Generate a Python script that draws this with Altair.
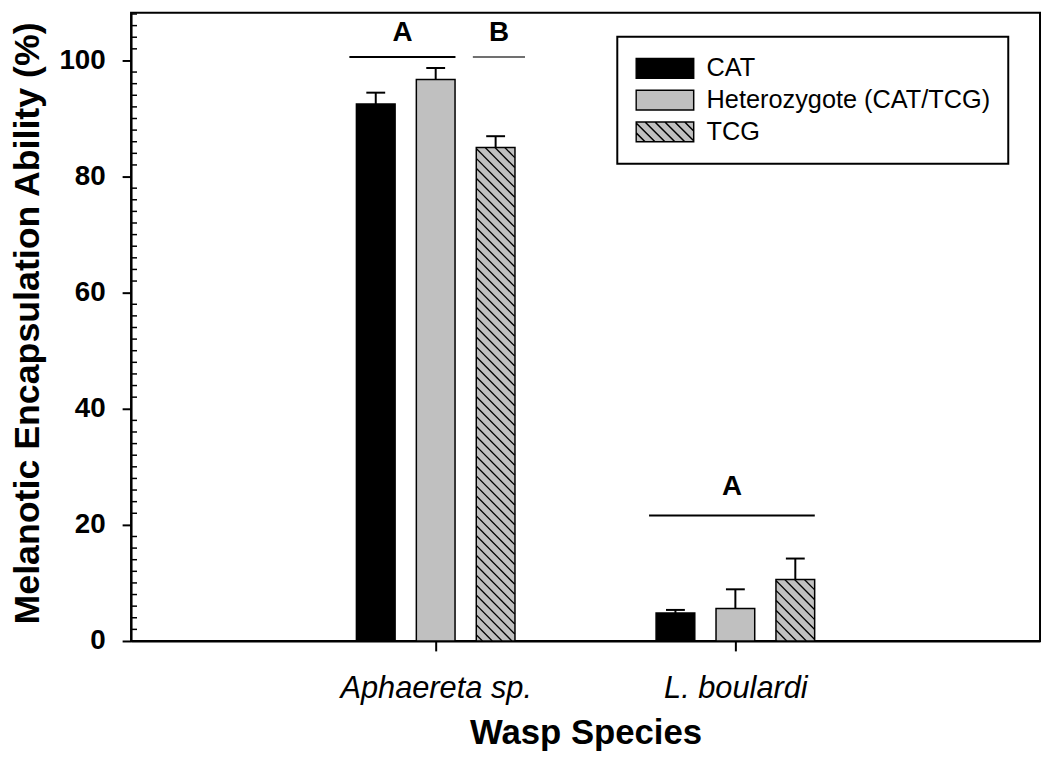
import altair as alt
import pandas as pd

# ---------------- data ----------------
species = ["Aphaereta sp.", "L. boulardi"]
genotypes = ["CAT", "Heterozygote (CAT/TCG)", "TCG"]
cat_mean = [92.5, 4.8]
het_mean = [96.7, 5.6]
tcg_mean = [85.0, 10.6]
cat_err = [1.95, 0.55]
het_err = [2.0, 3.3]
tcg_err = [1.95, 3.6]

# significance brackets
sig_letters = ["A", "B", "A"]
sig_start = [0.712, 1.124, 1.712]
sig_end = [1.066, 1.298, 2.265]
sig_line = [100.6, 100.6, 21.6]
sig_text = [103.4, 103.4, 25.1]
sig_color = ["black", "#707070", "black"]

y_ticks = [0, 20, 40, 60, 80, 100]

# ---------------- layout constants ----------------
W, H = 916, 633
XMAX, YMAX = 3.0, 108.2
BAR_W = 39
OFFSET = 0.2
FONT = "Liberation Sans"

means = [cat_mean, het_mean, tcg_mean]
errs = [cat_err, het_err, tcg_err]
rows = []
for gi, g in enumerate(genotypes):
    for si, s in enumerate(species):
        rows.append({
            "species": s, "genotype": g,
            "pos": si + 1 + (gi - 1) * OFFSET,
            "mean": means[gi][si],
            "upper": means[gi][si] + errs[gi][si],
        })
df = pd.DataFrame(rows)

sig = pd.DataFrame({
    "letter": sig_letters, "x0": sig_start, "x1": sig_end,
    "yl": sig_line, "yt": sig_text, "color": sig_color,
})
sig["mid"] = (sig["x0"] + sig["x1"]) / 2

minor = pd.DataFrame({"v": [v for v in range(2, 109, 2) if v % 20 != 0]})

# hatch lines for TCG bars (pattern decoration clipped to each bar)
pxx = W / XMAX
pxy = H / YMAX
SP = 10.0
hatch = []
for si in range(len(species)):
    pos = si + 1 + OFFSET
    left = pos * pxx - BAR_W / 2
    right = pos * pxx + BAR_W / 2
    top = H - tcg_mean[si] * pxy
    bottom = H
    k0 = int((top - right) // SP) - 1
    k1 = int((bottom - left) // SP) + 1
    for k in range(k0, k1 + 1):
        c = k * SP
        xa = max(left, top - c)
        xb = min(right, bottom - c)
        if xb - xa > 0.5:
            hatch.append({
                "hx0": xa / pxx, "hx1": xb / pxx,
                "hy0": (H - (xa + c)) / pxy, "hy1": (H - (xb + c)) / pxy,
            })
hatch_df = pd.DataFrame(hatch)

# legend symbol shapes (wide rectangles, one with hatch lines)
HH = 0.345
rect_path = f"M-1,-{HH}H1V{HH}H-1Z"
hp = rect_path
step = 10.0 / 29.0
for k in range(-6, 7):
    c = k * step
    xa = max(-1.0, -HH - c)
    xb = min(1.0, HH - c)
    if xb - xa > 0.02:
        hp += f"M{xa:.3f},{xa + c:.3f}L{xb:.3f},{xb + c:.3f}"
hatch_path = hp

xscale = alt.Scale(domain=[0, XMAX], nice=False, zero=False)
yscale = alt.Scale(domain=[0, YMAX], nice=False)
fill_scale = alt.Scale(domain=genotypes, range=["black", "#c0c0c0", "#c0c0c0"])
stroke_scale = alt.Scale(domain=genotypes, range=["black", "black", "black"])
shape_scale = alt.Scale(domain=genotypes, range=[rect_path, rect_path, hatch_path])

label_expr = "[" + ",".join(f"'{s}'" for s in species) + "][datum.value - 1]"

x_axis = alt.Axis(
    values=[1, 2], labelExpr=label_expr, title="Wasp Species", grid=False,
    labelFont=FONT, labelFontSize=31, labelFontStyle="italic", labelColor="black",
    labelBaseline="alphabetic", labelPadding=47, labelLimit=500, tickSize=10, tickWidth=2,
    tickColor="black", domainColor="black", domainWidth=2,
    titleFont=FONT, titleFontSize=35, titleFontWeight="bold", titleColor="black",
    titleBaseline="alphabetic", titleAlign="center", titleX=W / 2, titleY=103,
)
y_axis = alt.Axis(
    values=y_ticks, title="Melanotic Encapsulation Ability (%)", grid=False,
    labelFont=FONT, labelFontSize=28, labelFontWeight="bold", labelColor="black",
    labelPadding=17, tickSize=9, tickWidth=2, tickColor="black",
    domainColor="black", domainWidth=2,
    titleFont=FONT, titleFontSize=36, titleFontWeight="bold", titleColor="black",
    titleAngle=270, titleBaseline="middle", titleAlign="center",
    titleX=-104, titleY=H / 2 - 4,
)

legend = alt.Legend(
    title=None, orient="none", legendX=490, legendY=24, direction="vertical",
    symbolSize=3364, symbolStrokeColor="black", symbolStrokeWidth=1.5,
    symbolOpacity=1, labelFont=FONT, labelFontSize=25.5, labelColor="black",
    labelOffset=12, labelLimit=500, clipHeight=28, rowPadding=4, padding=18,
    strokeColor="black", fillColor="white",
)

bars = alt.Chart(df).mark_bar(size=BAR_W, stroke="black", strokeWidth=1.5).encode(
    x=alt.X("pos:Q", scale=xscale, axis=x_axis),
    y=alt.Y("mean:Q", scale=yscale, axis=y_axis),
    fill=alt.Fill("genotype:N", scale=fill_scale, legend=legend),
)

hatch_layer = alt.Chart(hatch_df).mark_rule(color="black", strokeWidth=1.3).encode(
    x=alt.X("hx0:Q", scale=xscale), x2="hx1:Q",
    y=alt.Y("hy0:Q", scale=yscale), y2="hy1:Q",
)

err_line = alt.Chart(df).mark_rule(color="black", strokeWidth=2).encode(
    x=alt.X("pos:Q", scale=xscale),
    y=alt.Y("mean:Q", scale=yscale), y2="upper:Q",
)
err_cap = alt.Chart(df).mark_tick(orient="horizontal", size=19, thickness=2, color="black", opacity=1).encode(
    x=alt.X("pos:Q", scale=xscale),
    y=alt.Y("upper:Q", scale=yscale),
)

# invisible point layer that carries the shape / stroke channels for the legend symbols
legend_pts = alt.Chart(df).mark_point(filled=False, opacity=0, size=1).encode(
    x=alt.X("pos:Q", scale=xscale),
    y=alt.Y("mean:Q", scale=yscale),
    fill=alt.Fill("genotype:N", scale=fill_scale, legend=legend),
    stroke=alt.Stroke("genotype:N", scale=stroke_scale, legend=legend),
    shape=alt.Shape("genotype:N", scale=shape_scale, legend=legend),
)

sig_rules = alt.Chart(sig).mark_rule(strokeWidth=2).encode(
    x=alt.X("x0:Q", scale=xscale), x2="x1:Q",
    y=alt.Y("yl:Q", scale=yscale),
    color=alt.Color("color:N", scale=None),
)
sig_txt = alt.Chart(sig).mark_text(
    font=FONT, fontSize=28, fontWeight="bold", baseline="alphabetic", align="center", color="black"
).encode(
    x=alt.X("mid:Q", scale=xscale),
    y=alt.Y("yt:Q", scale=yscale),
    text="letter:N",
)

minor_ticks = alt.Chart(minor).mark_rule(color="black", strokeWidth=1.5).encode(
    x=alt.value(0), x2=alt.value(6),
    y=alt.Y("v:Q", scale=yscale),
)

chart = alt.layer(
    bars, hatch_layer, err_line, err_cap, minor_ticks, sig_rules, sig_txt, legend_pts
).properties(
    width=W, height=H,
    padding={"left": 124, "top": 2, "right": 2, "bottom": 109},
    autosize=alt.AutoSizeParams(type="none"),
    background="white",
).configure(font=FONT).configure_view(
    stroke="black", strokeWidth=2
).configure_legend(strokeWidth=2)

chart.save("out.html", embed_options={"renderer": "svg", "actions": False})
